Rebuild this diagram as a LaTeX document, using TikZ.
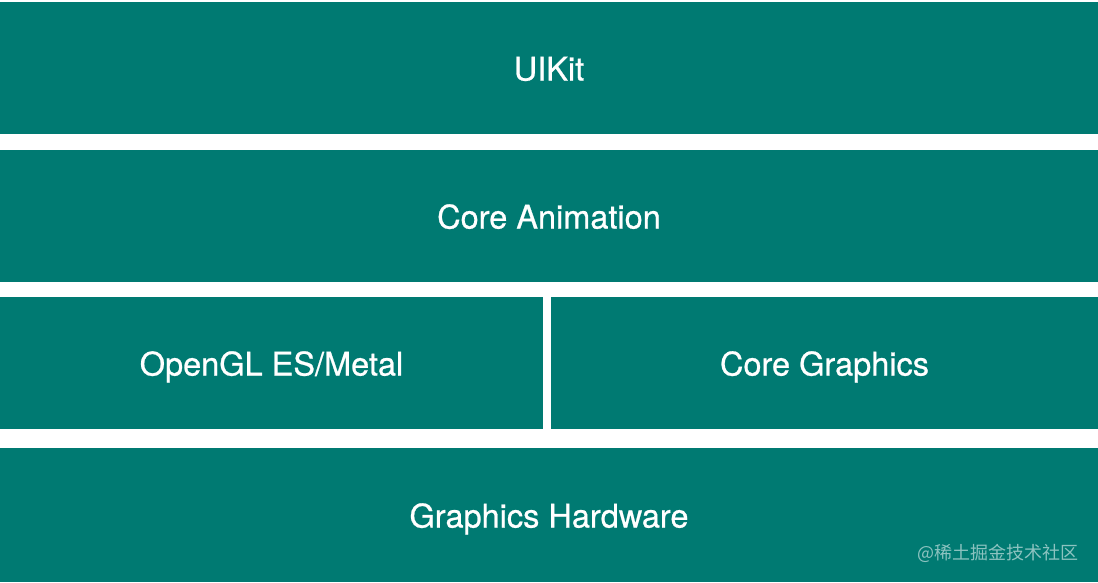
\documentclass[tikz,border=0pt]{standalone}
\usepackage{fontspec}
\setmainfont{TeX Gyre Heros}
\newfontfamily\layerfont[FakeBold=0.7]{TeX Gyre Heros}
\newfontfamily\cjk{Noto Sans CJK SC}
\definecolor{layerteal}{RGB}{0,122,114}

\tikzstyle{every node}=[anchor=north west, inner sep=0pt, outer sep=0pt, text=white, font={\layerfont\fontsize{32.5}{36}\selectfont}]
\tikzstyle{layer}=[fill=layerteal, minimum height=132pt, text height=28pt, text depth=3pt]
\tikzstyle{full}=[layer, minimum width=1098pt]
\tikzstyle{half}=[layer, minimum width=543pt]
\tikzstyle{watermarktext}=[anchor=center, text=white!55!layerteal, font={\cjk\fontsize{18}{20}\selectfont}]

\begin{document}
\begin{tikzpicture}[x=1pt, y=-1pt]
    \useasboundingbox (0,0) rectangle (1098,582);
    \node [full] (uikit) at (0,2) {UIKit};
    \node [full] (coreanim) at (0,150) {Core Animation};
    \node [half] (opengl) at (0,297) {OpenGL ES/Metal};
    \node [half, minimum width=547pt] (coregfx) at (551,297) {Core Graphics};
    \node [full, minimum height=134pt] (hardware) at (0,448) {Graphics Hardware};
    \node [watermarktext] (watermark) at (998,553) {@稀土掘金技术社区};
\end{tikzpicture}
\end{document}
